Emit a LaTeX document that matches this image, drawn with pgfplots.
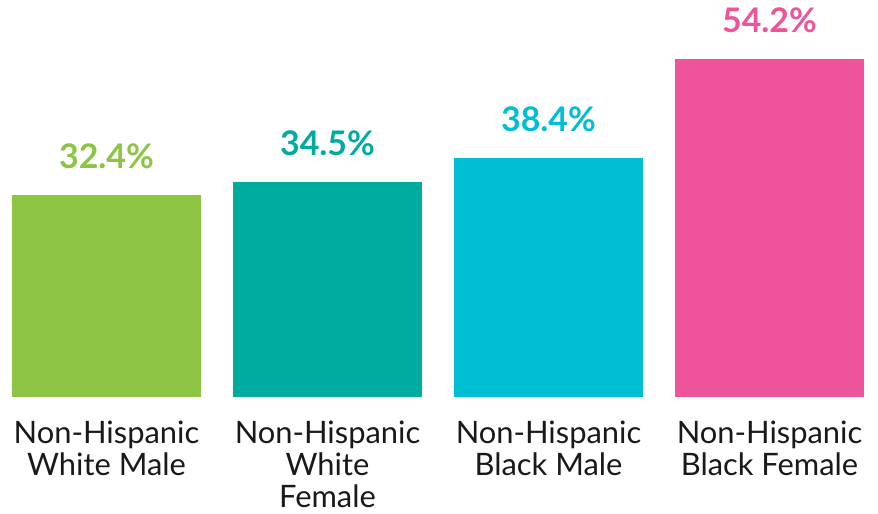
\documentclass[border=0pt]{standalone}
\usepackage{pgfplots}
\pgfplotsset{compat=1.18}
\usepackage{fontspec}
\setmainfont{Lato}
\definecolor{cgreen}{HTML}{8BC543}
\definecolor{cteal}{HTML}{00AB9F}
\definecolor{ccyan}{HTML}{00BED3}
\definecolor{cpink}{HTML}{EE5499}

\begin{document}
\begin{tikzpicture}
  \begin{axis}[
      at={(0,0)}, anchor=south west,
      scale only axis,
      width=852bp, height=374.2bp,
      xmin=-0.4276, xmax=3.4276,
      ymin=0, ymax=60,
      axis line style={draw=none},
      ybar, bar width=189bp, bar shift=0pt,
      ytick=\empty,
      xtick={0,1,2,3},
      major tick length=0pt,
      xticklabels={{Non-Hispanic\\White Male},{Non-Hispanic\\White\\Female},{Non-Hispanic\\Black Male},{Non-Hispanic\\Black Female}},
      xticklabel style={align=center, anchor=north, inner sep=0pt, yshift=-24bp,
        font=\fontsize{31}{32}\selectfont, text=black!90},
      /pgf/number format/assume math mode=true,
      nodes near coords={\pgfmathprintnumber[fixed,precision=1,fixed zerofill]{\pgfplotspointmeta}\%},
      nodes near coords style={anchor=base, yshift=26bp, inner sep=0pt,
        font=\fontsize{34}{38}\selectfont\bfseries},
      clip=false,
    ]
    \addplot[fill=cgreen, draw=none, every node near coord/.append style={text=cgreen}]
      coordinates {(0,32.4)};
    \addplot[fill=cteal, draw=none, every node near coord/.append style={text=cteal}]
      coordinates {(1,34.5)};
    \addplot[fill=ccyan, draw=none, every node near coord/.append style={text=ccyan}]
      coordinates {(2,38.4)};
    \addplot[fill=cpink, draw=none, every node near coord/.append style={text=cpink}]
      coordinates {(3,54.2)};
  \end{axis}
  \path[use as bounding box] (-12bp,-117bp) rectangle (866bp,397bp);
\end{tikzpicture}
\end{document}
